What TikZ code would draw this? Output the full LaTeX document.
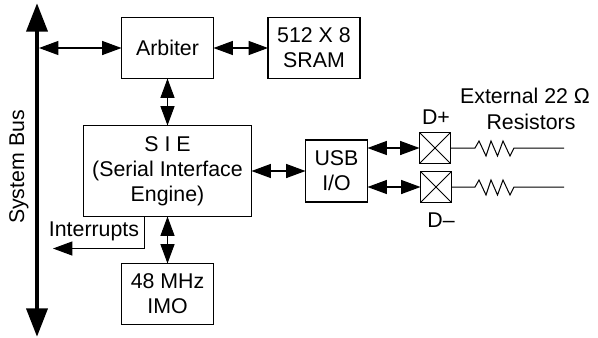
\documentclass[tikz,border=0pt]{standalone}
\usepackage{fontspec}
\setmainfont{Liberation Sans}
\usetikzlibrary{arrows.meta}
\tikzset{
  every node/.style={font=\fontsize{16}{18.8}\selectfont,align=center,inner sep=0pt,outer sep=0pt},
  blockbox/.style={draw=black,line width=1.15pt,fill=white},
  smallbox/.style={blockbox,minimum width=69pt,minimum height=45.75pt},
  crossbox/.style={blockbox,minimum size=23.25pt},
  dbl/.style={line width=0.8pt,{Triangle[length=14.5pt,width=10.5pt]}-{Triangle[length=14.5pt,width=10.5pt]}},
  single/.style={line width=0.8pt,-{Triangle[length=14.5pt,width=10.5pt]}},
  busline/.style={line width=3.6pt,{Triangle[length=21.5pt,width=15.5pt]}-{Triangle[length=21.5pt,width=15.5pt]}},
  wire/.style={line width=0.75pt,line join=miter},
}
\begin{document}
\begin{tikzpicture}[x=0.75pt,y=-0.75pt]
\useasboundingbox (0,0) rectangle (598,337);
\node[smallbox] (arb) at (167.5,48) {Arbiter};
\node[smallbox] (sram) at (314,48) {512 X 8\\SRAM};
\node[blockbox,minimum width=126pt,minimum height=68.25pt] (sie) at (167.5,171) {S I E\\(Serial Interface\\Engine)};
\node[smallbox] (imo) at (167.5,294) {48 MHz\\IMO};
\node[blockbox,minimum width=46.5pt,minimum height=46.5pt] (usb) at (336.5,171) {USB\\I/O};
\node[crossbox] (dp) at (435,148) {};
\node[crossbox] (dm) at (436,187) {};
\draw[wire] (dp.north west) -- (dp.south east) (dp.north east) -- (dp.south west);
\draw[wire] (dm.north west) -- (dm.south east) (dm.north east) -- (dm.south west);

\coordinate (bustop) at (37,3);
\coordinate (busbot) at (37,337);
\coordinate (busarb) at (39,48);
\draw[busline] (bustop) -- (busbot);
\draw[dbl] (busarb) -- (arb.west);
\draw[dbl] (arb.east) -- (sram.west);
\draw[dbl] (arb.south) -- (sie.north);
\draw[dbl] (sie.south) -- (imo.north);
\draw[dbl] (sie.east) -- (usb.west);
\draw[dbl] (usb.east |- dp.west) -- (dp.west);
\draw[dbl] (usb.east |- dm.west) -- (dm.west);

\coordinate (intstart) at (144.5,217);
\coordinate (intcorner) at (144.5,248.5);
\coordinate (intend) at (53,248.5);
\draw[single] (intstart) -- (intcorner) -- (intend);

\coordinate (r1end) at (564,148);
\coordinate (r2end) at (564,187);
\draw[wire] (dp.east) -- (475,148) -- (479,141) -- (486,156) -- (491,141) -- (497.5,156) -- (503,141) -- (510,156) -- (514,148) -- (r1end);
\draw[wire] (dm.east) -- (475,187) -- (479,180) -- (486,195) -- (491,180) -- (497.5,195) -- (503,180) -- (510,195) -- (514,187) -- (r2end);

\node[rotate=90] (sysbus) at (19,167) {System Bus};
\node (intr) at (94,231) {Interrupts};
\node (dplus) at (436,117) {D+};
\node (dminus) at (441,220) {D–};
\node (ext) at (525,96) {External 22 Ω};
\node (res) at (531,122) {Resistors};
\end{tikzpicture}
\end{document}
